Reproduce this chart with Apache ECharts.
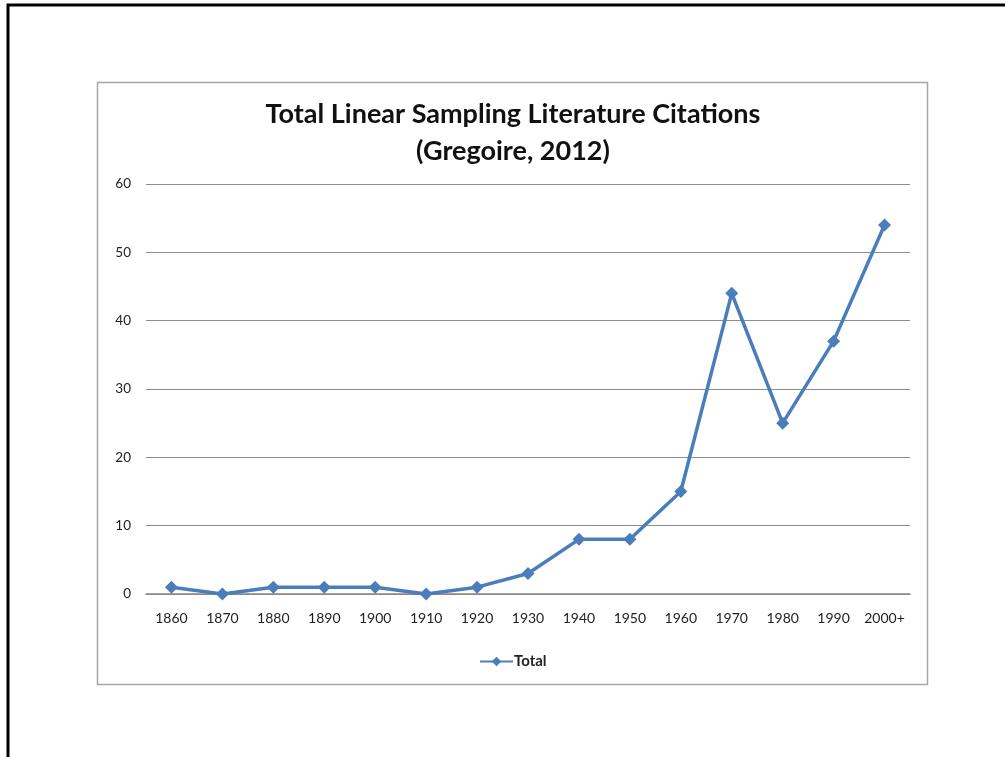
<!DOCTYPE html>
<html>
<head>
<meta charset="utf-8">
<script src="https://cdn.jsdelivr.net/npm/echarts@6/dist/echarts.min.js"></script>
<style>
  html, body { margin: 0; padding: 0; background: #fff; }
  #chart { width: 1005px; height: 757px; }
</style>
</head>
<body>
<div id="chart"></div>
<script>
// data
var decades = ['1860', '1870', '1880', '1890', '1900', '1910', '1920', '1930', '1940', '1950', '1960', '1970', '1980', '1990', '2000+'];
var totalCitations = [1, 0, 1, 1, 1, 0, 1, 3, 8, 8, 15, 44, 25, 37, 54];
var yTicks = [0, 10, 20, 30, 40, 50, 60];

var lineColor = '#4a7ebb';

var chart = echarts.init(document.getElementById('chart'));
chart.setOption({
    backgroundColor: '#fff',
    animation: false,
    title: {
        text: 'Total Linear Sampling Literature Citations\n(Gregoire, 2012)',
        // title is centred over the chart box, not the page
        left: 508,
        textAlign: 'center',
        top: 91,
        textStyle: {
            fontFamily: 'Lato',
            fontWeight: 'bold',
            fontSize: 27,
            lineHeight: 37,
            color: '#111'
        }
    },
    graphic: [
        // outer black frame (runs off right and bottom of the page)
        { type: 'rect', shape: { x: 8, y: 5, width: 1010, height: 770 }, style: { fill: 'none', stroke: '#000', lineWidth: 3 }, z: 0 },
        // chart area frame
        { type: 'rect', shape: { x: 97.5, y: 82.5, width: 830, height: 602 }, style: { fill: 'none', stroke: '#a6a6a6', lineWidth: 1.5 }, z: 0 }
    ],
    legend: {
        data: ['Total'],
        top: 649,
        left: 474,
        itemWidth: 33,
        itemHeight: 12,
        itemGap: 1,
        textStyle: { fontFamily: 'Lato', fontSize: 15, fontWeight: 'bold', color: '#222', padding: [0, 0, 0, -4] }
    },
    grid: { left: 146, right: 95, top: 184, bottom: 163 },
    xAxis: {
        type: 'category',
        data: decades,
        boundaryGap: true,
        axisLine: { lineStyle: { color: '#8c8484', width: 1.5 } },
        axisTick: { show: false },
        axisLabel: { interval: 0, hideOverlap: false, fontFamily: 'Lato', fontSize: 14, color: '#222', margin: 17 }
    },
    yAxis: {
        type: 'value',
        min: yTicks[0],
        max: yTicks[yTicks.length - 1],
        interval: 10,
        axisLine: { show: false },
        axisTick: { show: false },
        splitLine: { lineStyle: { color: '#8c8c8c', width: 1.2 } },
        axisLabel: { fontFamily: 'Lato', fontSize: 13.5, color: '#222', margin: 15 }
    },
    series: [{
        name: 'Total',
        type: 'line',
        data: totalCitations,
        symbol: 'diamond',
        symbolSize: 13,
        lineStyle: { color: lineColor, width: 3.5 },
        itemStyle: { color: lineColor }
    }]
});
</script>
</body>
</html>
